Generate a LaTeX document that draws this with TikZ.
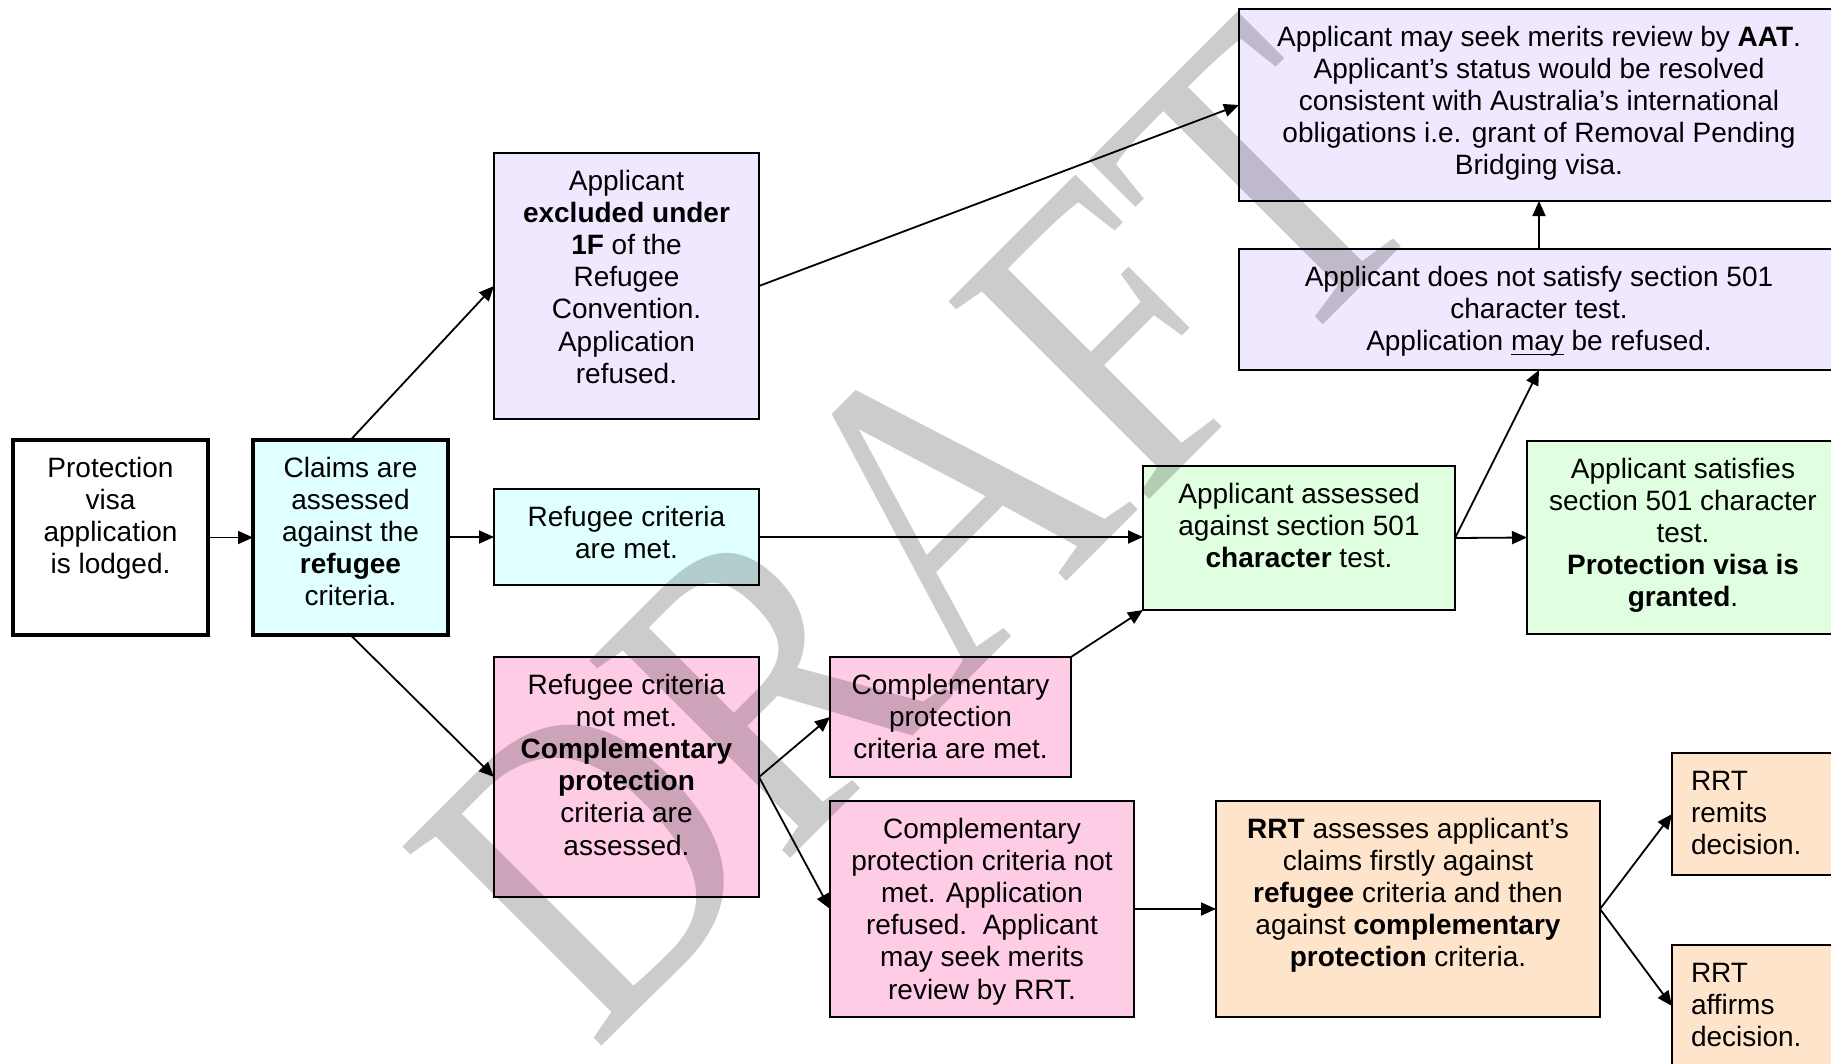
\documentclass[tikz,border=0pt]{standalone}
\usepackage{fontspec}
\setmainfont{Liberation Sans}
\newfontfamily\wmfont{Liberation Serif}
\usetikzlibrary{arrows.meta}
\pgfdeclarelayer{bg}\pgfdeclarelayer{wm}
\pgfsetlayers{bg,wm,main}
\definecolor{cyf}{HTML}{E0FFFF}
\definecolor{lvf}{HTML}{F0E8FF}
\definecolor{pkf}{HTML}{FFCCE6}
\definecolor{grf}{HTML}{E0FFE0}
\definecolor{pcf}{HTML}{FFE4CC}
\newcommand\bt[3]{\parbox[t][#2pt][t]{#1pt}{\centering\rule{0pt}{37pt}#3}}
\newcommand\btl[3]{\parbox[t][#2pt][t]{#1pt}{\raggedright\leftskip=19pt\rule{0pt}{37pt}#3}}
\newcommand\ulx[1]{\setbox0\hbox{#1}\rlap{\rule[-5pt]{\wd0}{1.8pt}}\box0\relax}
\begin{document}
\begin{tikzpicture}[x=1pt,y=-1pt,
  font=\fontsize{28}{32.2}\selectfont,
  bx/.style={draw, line width=1.8pt, inner sep=0pt, outer sep=0pt, anchor=north west},
  thk/.style={line width=4pt},
  arr/.style={line width=1.8pt, -{Triangle[length=15pt,width=13pt]}}]
\useasboundingbox (0,0) rectangle (1831,1063);

\node[bx,thk] (b1) at (13,440) {\bt{195}{195}{Protection\\visa\\application\\is lodged.}};
\node[bx,thk] (b2) at (253,440) {\bt{195}{195}{Claims are\\assessed\\against the\\\textbf{refugee}\\criteria.}};
\node[bx] (b3) at (494,153) {\bt{265}{266}{Applicant\\\textbf{excluded under}\\\textbf{1F} of the\\Refugee\\Convention.\\Application\\refused.}};
\node[bx] (b4) at (494,489) {\bt{265}{96}{Refugee criteria\\are met.}};
\node[bx] (b5) at (494,657) {\bt{265}{240}{Refugee criteria\\not met.\\\textbf{Complementary}\\\textbf{protection}\\criteria are\\assessed.}};
\node[bx] (b6) at (830,657) {\bt{241}{120}{Complementary\\protection\\criteria are met.}};
\node[bx] (b7) at (830,801) {\bt{304}{216}{Complementary\\protection criteria not\\met. Application\\refused.\ \ Applicant\\may seek merits\\review by RRT.}};
\node[bx] (b8) at (1216,801) {\bt{384}{216}{\textbf{RRT} assesses applicant’s\\claims firstly against\\\textbf{refugee} criteria and then\\against \textbf{complementary}\\\textbf{protection} criteria.}};
\node[bx] (b9) at (1672,753) {\btl{300}{122}{RRT\\remits\\decision.}};
\node[bx] (b10) at (1672,945) {\btl{300}{122}{RRT\\affirms\\decision.}};
\node[bx] (b11) at (1143,466) {\bt{312}{144}{Applicant assessed\\against section 501\\\textbf{character} test.}};
\node[bx] (b12) at (1527,441) {\bt{312}{193}{Applicant satisfies\\section 501 character\\test.\\\textbf{Protection visa is}\\\textbf{granted}.}};
\node[bx] (b13) at (1239,249) {\bt{600}{121}{Applicant does not satisfy section 501\\character test.\\Application \ulx{may} be refused.}};
\node[bx] (b14) at (1239,9) {\bt{600}{192}{Applicant may seek merits review by \textbf{AAT}.\\Applicant’s status would be resolved\\consistent with Australia’s international\\obligations i.e. grant of Removal Pending\\Bridging visa.}};

\begin{pgfonlayer}{bg}
  \fill[white] (0,0) rectangle (1831,1063);
  \foreach \n/\c in {b2/cyf,b4/cyf,b3/lvf,b13/lvf,b14/lvf,b5/pkf,b6/pkf,b7/pkf,b11/grf,b12/grf,b8/pcf,b9/pcf,b10/pcf}
    \fill[\c] (\n.north west) rectangle (\n.south east);
\end{pgfonlayer}
\begin{pgfonlayer}{wm}
  \node[rotate=45, xscale=0.85, opacity=0.2, text=black, inner sep=0pt, font=\wmfont\fontsize{430}{430}\selectfont] (wm) at (918,530) {DRAFT};
\end{pgfonlayer}

\draw[arr] (b1) -- (b2);
\draw[arr] (b2.north) -- (b3.west);
\draw[arr] (b2.east |- b4.west) -- (b4.west);
\draw[arr] (b2.south) -- (b5.west);
\draw[arr] (b3.east) -- (b14.west);
\draw[arr] (b4.east) -- (b4.east -| b11.west);
\draw[arr] (b5.east) -- (b6.west);
\draw[arr] (b5.east) -- (b7.west);
\draw[arr] (b6.north east) -- (b11.south west);
\draw[arr] (b7.east) -- (b8.west);
\draw[arr] (b11.east) -- (b12.west);
\draw[arr] (b11.east) -- (b13.south);
\draw[arr] (b13.north) -- (b14.south);
\draw[arr] (b8.east) -- (b9.west);
\draw[arr] (b8.east) -- (b10.west);
\end{tikzpicture}
\end{document}
